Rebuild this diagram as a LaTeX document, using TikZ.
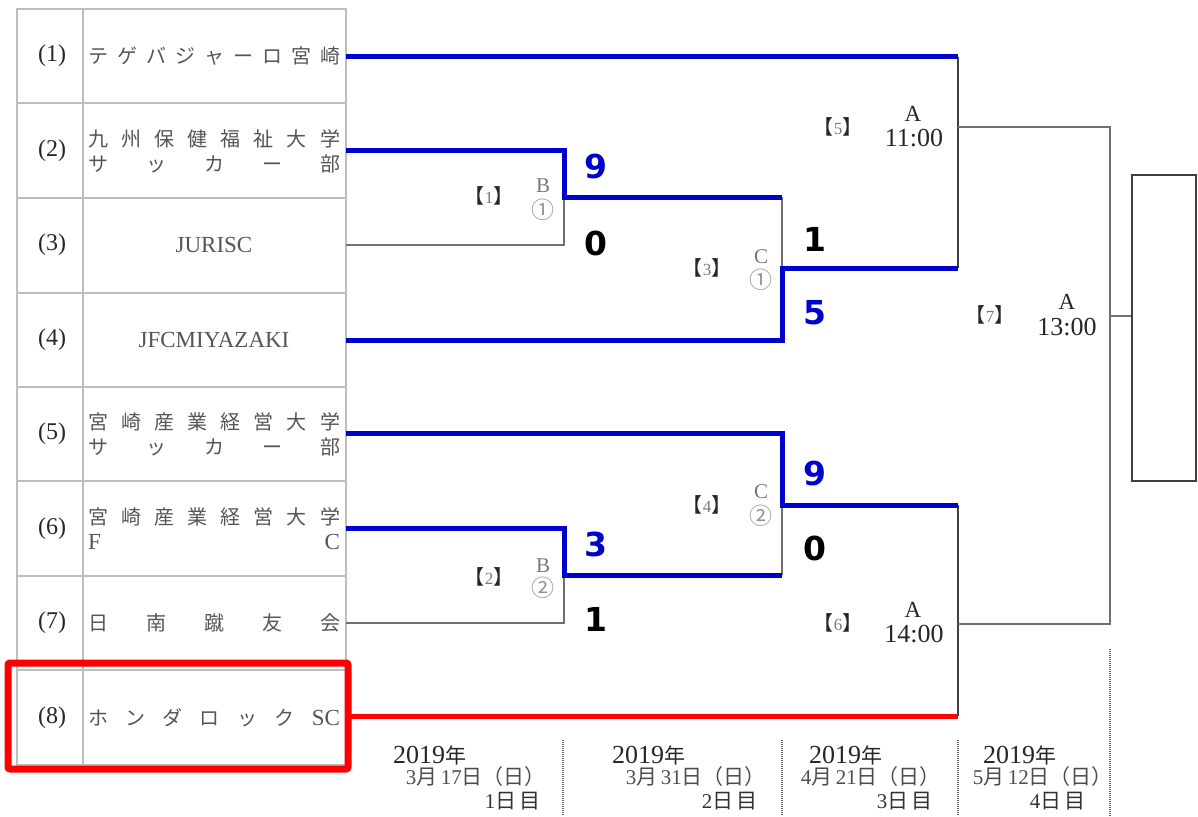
\documentclass[tikz,border=0pt]{standalone}
\usepackage{fontspec}
\setmainfont{Liberation Serif}
\newfontfamily\jp{Noto Sans CJK JP}
\newfontfamily\scorefont{DejaVu Sans}
\definecolor{bblue}{RGB}{0,0,204}
\definecolor{rred}{RGB}{255,0,0}
\definecolor{lgray}{RGB}{112,112,112}
\definecolor{tgray}{RGB}{190,190,190}
\definecolor{namegray}{RGB}{85,85,85}
\definecolor{mgray}{RGB}{120,120,120}
\tikzset{
  tline/.style={draw=tgray, line width=1.3pt},
  gline/.style={draw=lgray, line width=1.8pt},
  dline/.style={draw=black!75, line width=1.6pt},
  bline/.style={draw=bblue, line width=5pt, line join=miter},
  rline/.style={draw=rred, line width=5pt},
  dotline/.style={draw=black!60, line width=2pt, dash pattern=on 1pt off 1pt},
  tname/.style={font=\jp\fontsize{20}{25}\selectfont, text=namegray, inner sep=0pt, align=center},
  lname/.style={font=\fontsize{23}{25}\selectfont, text=namegray, inner sep=0pt},
  tnum/.style={font=\fontsize{24}{26}\selectfont, text=black!85, inner sep=0pt},
  mlabel/.style={font=\jp\fontsize{20}{22}\selectfont, text=black!85, inner sep=0pt},
  mnum/.style={text=mgray},
  court/.style={font=\fontsize{21}{22}\selectfont, text=mgray, inner sep=0pt},
  circ/.style={font=\jp\fontsize{23}{24}\selectfont, text=mgray!80, inner sep=0pt},
  acourt/.style={font=\fontsize{23}{24}\selectfont, text=black!85, inner sep=0pt},
  atime/.style={font=\fontsize{26}{28}\selectfont, text=black!85, inner sep=0pt},
  bscore/.style={font=\scorefont\bfseries\fontsize{33}{36}\selectfont, text=bblue, inner sep=0pt},
  kscore/.style={font=\scorefont\bfseries\fontsize{33}{36}\selectfont, text=black, inner sep=0pt},
  yeart/.style={font=\fontsize{26}{28}\selectfont, text=black!85, inner sep=0pt, anchor=west},
  datet/.style={font=\fontsize{21}{22}\selectfont, text=black!70, inner sep=0pt, anchor=east},
  dayt/.style={font=\fontsize{21}{22}\selectfont, text=black!80, inner sep=0pt, anchor=east}
}
\newcommand{\sname}[1]{\makebox[252pt]{#1}}
\newcommand{\jn}[1]{{\jp\fontsize{21}{22}\selectfont #1}}
\newcommand{\mno}[1]{【{\rmfamily\fontsize{17}{18}\selectfont\color{mgray}#1}】}
\begin{document}
\begin{tikzpicture}[x=1pt,y=-1pt]
\useasboundingbox (0,0) rectangle (1198,816);
% ---- table ----
\coordinate (TL) at (17,9);
\coordinate (BR) at (346,765);
\draw[tline] (TL) rectangle (BR);
\draw[tline] (83,9) -- (83,765);
\foreach \yy in {103,198,293,387,481,576,670} {\draw[tline] (17,\yy) -- (346,\yy);}
% numbers
\node[tnum] (p1) at (52,56) {(1)};
\node[tnum] (p2) at (52,151) {(2)};
\node[tnum] (p3) at (52,245) {(3)};
\node[tnum] (p4) at (52,340) {(4)};
\node[tnum] (p5) at (52,434) {(5)};
\node[tnum] (p6) at (52,529) {(6)};
\node[tnum] (p7) at (52,623) {(7)};
\node[tnum] (p8) at (52,718) {(8)};
% names
\node[tname] (n1) at (214,56) {\sname{テ\hfill ゲ\hfill バ\hfill ジ\hfill ャ\hfill ー\hfill ロ\hfill 宮\hfill 崎}};
\node[tname] (n2) at (214,151) {\sname{九\hfill 州\hfill 保\hfill 健\hfill 福\hfill 祉\hfill 大\hfill 学}\\\sname{サ\hfill ッ\hfill カ\hfill ー\hfill 部}};
\node[lname] (n3) at (214,245) {JURISC};
\node[lname] (n4) at (214,340) {JFCMIYAZAKI};
\node[tname] (n5) at (214,434) {\sname{宮\hfill 崎\hfill 産\hfill 業\hfill 経\hfill 営\hfill 大\hfill 学}\\\sname{サ\hfill ッ\hfill カ\hfill ー\hfill 部}};
\node[tname] (n6) at (214,529) {\sname{宮\hfill 崎\hfill 産\hfill 業\hfill 経\hfill 営\hfill 大\hfill 学}\\\sname{\rmfamily\fontsize{23}{25}\selectfont F\hfill C}};
\node[tname] (n7) at (214,623) {\sname{日\hfill 南\hfill 蹴\hfill 友\hfill 会}};
\node[tname] (n8) at (214,718) {\sname{ホ\hfill ン\hfill ダ\hfill ロ\hfill ッ\hfill ク\hfill {\rmfamily\fontsize{23}{25}\selectfont SC}}};
% ---- bracket coordinates ----
\coordinate (t1) at (346,57);
\coordinate (t2) at (346,150);
\coordinate (t3) at (346,245);
\coordinate (t4) at (346,340);
\coordinate (t5) at (346,433);
\coordinate (t6) at (346,528);
\coordinate (t7) at (346,623);
\coordinate (t8) at (346,716);
\coordinate (m1a) at (564,150); \coordinate (m1) at (564,197); \coordinate (m1b) at (564,245);
\coordinate (m2a) at (564,528); \coordinate (m2) at (564,575); \coordinate (m2b) at (564,623);
\coordinate (m3a) at (782,197); \coordinate (m3) at (782,268); \coordinate (m3b) at (782,340);
\coordinate (m4a) at (782,433); \coordinate (m4) at (782,505); \coordinate (m4b) at (782,575);
\coordinate (m5a) at (958,57);  \coordinate (m5) at (958,127); \coordinate (m5b) at (958,268);
\coordinate (m6a) at (958,505); \coordinate (m6) at (958,624); \coordinate (m6b) at (958,716);
\coordinate (m7a) at (1110,127); \coordinate (m7) at (1110,316); \coordinate (m7b) at (1110,624);
\coordinate (w) at (1132,316);
% gray lines
\draw[gline] (t3) -- (m1b) -- (m1);
\draw[gline] (t7) -- (m2b) -- (m2);
\draw[gline] (m3a) -- (m3);
\draw[gline] (m4) -- (m4b);
\draw[dline] (m5a) -- (m5b);
\draw[dline] (m6a) -- (m6b);
\draw[gline] (m5) -- (m7a) -- (m7b) -- (m6);
\draw[gline] (m7) -- (w);
\draw[dline] (1132,175) rectangle (1196,481);
% blue and red lines
\draw[bline] (t1) -- (m5a);
\draw[bline] (t2) -- (m1a) -- (m1) -- (m3a);
\draw[bline] (t4) -- (m3b) -- (m3) -- (m5b);
\draw[bline] (t5) -- (m4a) -- (m4) -- (m6a);
\draw[bline] (t6) -- (m2a) -- (m2) -- (m4b);
\draw[rline] (t8) -- (m6b);
% red box
\draw[draw=rred, line width=7pt, rounded corners=2pt] (8,663) rectangle (348,769);
% ---- match labels ----
\node[mlabel] (g1) at (489,196) {\mno{1}};
\node[court] (c1) at (543,186) {B};
\node[circ] (k1) at (543,210) {①};
\node[mlabel] (g2) at (489,577) {\mno{2}};
\node[court] (c2) at (543,566) {B};
\node[circ] (k2) at (543,588) {②};
\node[mlabel] (g3) at (707,268) {\mno{3}};
\node[court] (c3) at (761,257) {C};
\node[circ] (k3) at (761,280) {①};
\node[mlabel] (g4) at (707,505) {\mno{4}};
\node[court] (c4) at (761,492) {C};
\node[circ] (k4) at (761,516) {②};
\node[mlabel] (g5) at (838,127) {\mno{5}};
\node[acourt] (c5) at (913,114) {A};
\node[atime] (h5) at (914,138) {11:00};
\node[mlabel] (g6) at (838,623) {\mno{6}};
\node[acourt] (c6) at (913,610) {A};
\node[atime] (h6) at (914,634) {14:00};
\node[mlabel] (g7) at (990,315) {\mno{7}};
\node[acourt] (c7) at (1067,302) {A};
\node[atime] (h7) at (1067,327) {13:00};
% ---- scores ----
\node[bscore] (s1) at (596,167) {9};
\node[kscore] (s2) at (596,243) {0};
\node[bscore] (s3) at (596,544) {3};
\node[kscore] (s4) at (596,619) {1};
\node[kscore] (s5) at (815,239) {1};
\node[bscore] (s6) at (815,313) {5};
\node[bscore] (s7) at (815,473) {9};
\node[kscore] (s8) at (815,548) {0};
% ---- dates ----
\draw[dotline] (563,740) -- (563,816);
\draw[dotline] (782,740) -- (782,816);
\draw[dotline] (958,740) -- (958,816);
\draw[dotline] (1110,649) -- (1110,816);
\node[yeart] (y1) at (393,755) {2019\jn{年}};
\node[datet] (d1) at (546,777) {3\jn{月}\,17\jn{日（日）}};
\node[dayt]  (e1) at (541,801) {1\jn{日\,目}};
\node[yeart] (y2) at (612,755) {2019\jn{年}};
\node[datet] (d2) at (766,777) {3\jn{月}\,31\jn{日（日）}};
\node[dayt]  (e2) at (758,801) {2\jn{日\,目}};
\node[yeart] (y3) at (809,755) {2019\jn{年}};
\node[datet] (d3) at (941,777) {4\jn{月}\,21\jn{日（日）}};
\node[dayt]  (e3) at (933,801) {3\jn{日\,目}};
\node[yeart] (y4) at (983,755) {2019\jn{年}};
\node[datet] (d4) at (1113,777) {5\jn{月}\,12\jn{日（日）}};
\node[dayt]  (e4) at (1086,801) {4\jn{日\,目}};
\end{tikzpicture}
\end{document}
